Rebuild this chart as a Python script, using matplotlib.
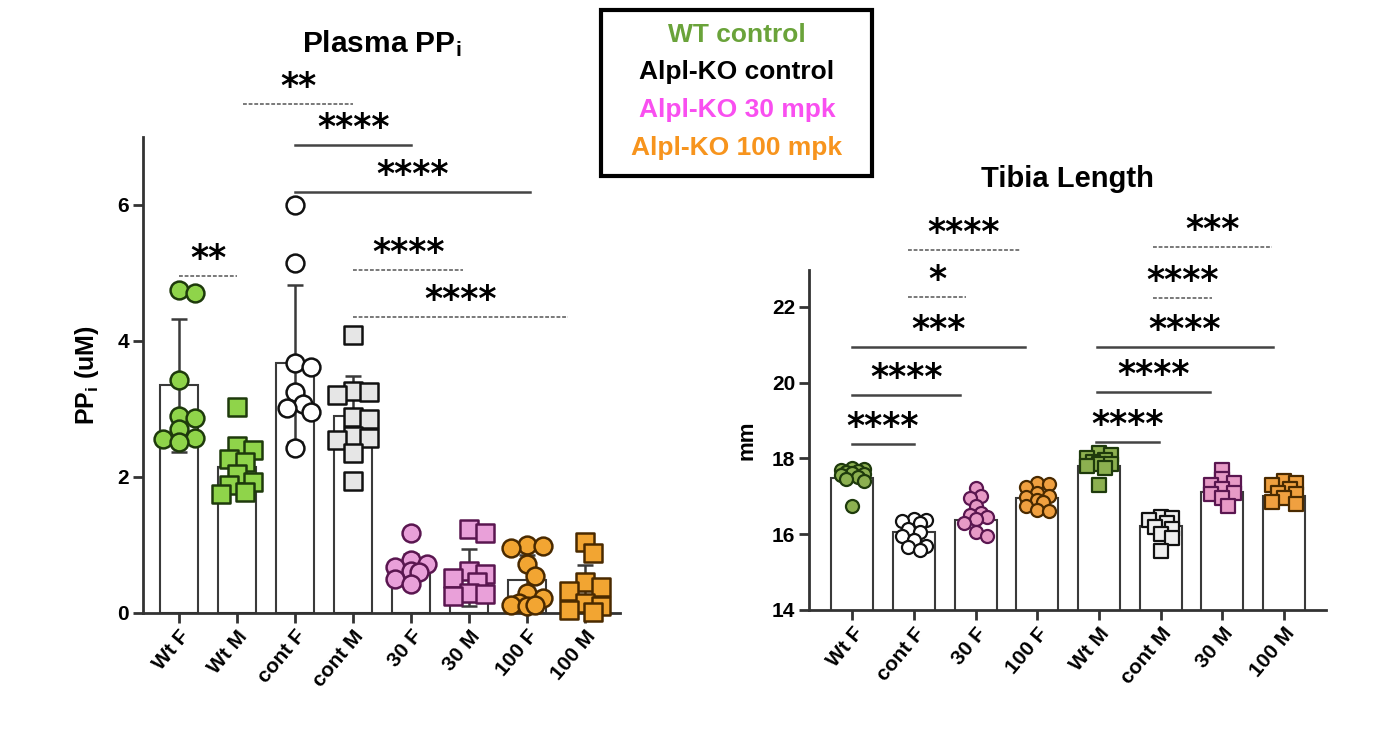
import matplotlib
matplotlib.use("Agg")
import matplotlib.pyplot as plt
from matplotlib.patches import Rectangle
import numpy as np

plt.rcParams['font.family'] = ['Liberation Sans', 'DejaVu Sans']
plt.rcParams['font.weight'] = 'bold'
plt.rcParams['axes.labelweight'] = 'bold'
plt.rcParams['mathtext.fontset'] = 'custom'
plt.rcParams['mathtext.rm'] = 'Liberation Sans:bold'
plt.rcParams['mathtext.it'] = 'Liberation Sans:bold'

# ---- Plasma PPi data ----
ppi_groups = ["Wt F", "Wt M", "cont F", "cont M", "30 F", "30 M", "100 F", "100 M"]
ppi_points = [
    [4.75, 4.70, 3.43, 2.90, 2.87, 2.70, 2.58, 2.56, 2.52],
    [3.03, 2.45, 2.40, 2.27, 2.22, 2.05, 1.93, 1.88, 1.78, 1.75],
    [6.00, 5.14, 3.68, 3.62, 3.25, 3.07, 3.02, 2.95, 2.43],
    [4.09, 3.27, 3.25, 3.20, 2.88, 2.85, 2.60, 2.58, 2.55, 2.35, 1.94],
    [1.17, 0.78, 0.72, 0.68, 0.62, 0.60, 0.50, 0.42],
    [1.24, 1.18, 0.62, 0.58, 0.52, 0.45, 0.30, 0.28, 0.25],
    [1.00, 0.98, 0.95, 0.72, 0.55, 0.30, 0.22, 0.15, 0.12, 0.10, 0.12],
    [1.05, 0.88, 0.45, 0.38, 0.32, 0.15, 0.10, 0.05, 0.02],
]
ppi_means = [3.35, 2.15, 3.67, 2.89, 0.66, 0.52, 0.48, 0.33]
ppi_sd = [0.98, 0.38, 1.16, 0.59, 0.21, 0.42, 0.37, 0.37]

# ---- Tibia length data ----
tib_groups = ["Wt F", "cont F", "30 F", "100 F", "Wt M", "cont M", "30 M", "100 M"]
tib_points = [
    [17.75, 17.72, 17.70, 17.68, 17.65, 17.62, 17.60, 17.55, 17.50, 17.45, 17.40, 16.75],
    [16.40, 16.38, 16.35, 16.30, 16.15, 16.05, 15.95, 15.85, 15.70, 15.65, 15.58],
    [17.22, 17.00, 16.95, 16.75, 16.55, 16.50, 16.45, 16.40, 16.30, 16.05, 15.95],
    [17.35, 17.32, 17.25, 17.10, 17.00, 16.98, 16.90, 16.85, 16.75, 16.65, 16.62],
    [18.15, 18.10, 18.00, 17.95, 17.90, 17.85, 17.85, 17.80, 17.75, 17.30],
    [16.45, 16.42, 16.38, 16.30, 16.20, 16.15, 16.00, 15.90, 15.55],
    [17.70, 17.45, 17.35, 17.30, 17.20, 17.10, 17.05, 16.95, 16.75],
    [17.40, 17.35, 17.30, 17.20, 17.10, 17.05, 16.95, 16.85, 16.80],
]
tib_means = [17.48, 16.05, 16.38, 16.95, 17.80, 16.22, 17.12, 17.00]

# significance brackets: (start, end, y, label, dashed)
ppi_sig = [
    (1.1, 3.0, 7.49, "**", True),
    (2.0, 4.0, 6.88, "****", False),
    (2.0, 6.05, 6.19, "****", False),
    (0.0, 1.0, 4.95, "**", True),
    (3.0, 4.9, 5.04, "****", True),
    (3.0, 6.7, 4.35, "****", True),
]
tib_sig = [
    (0.0, 1.0, 18.38, "****", False),
    (0.0, 1.75, 19.67, "****", False),
    (0.0, 2.8, 20.93, "***", False),
    (0.9, 1.85, 22.27, "*", True),
    (0.9, 2.72, 23.50, "****", True),
    (3.95, 4.98, 18.44, "****", False),
    (3.97, 5.8, 19.74, "****", False),
    (3.97, 6.82, 20.93, "****", False),
    (4.88, 5.83, 22.22, "****", True),
    (4.88, 6.8, 23.58, "***", True),
]

# marker styles: (marker, face, edge)
ppi_style = [
    ("o", "#8fd44a", "#1e3a0c"), ("s", "#8fd44a", "#1e3a0c"),
    ("o", "#ffffff", "#111111"), ("s", "#e6e6e6", "#111111"),
    ("o", "#e9a0d9", "#5a1650"), ("s", "#e9a0d9", "#5a1650"),
    ("o", "#f2a532", "#4a2a00"), ("s", "#f2a532", "#4a2a00"),
]
tib_style = [
    ("o", "#8cb050", "#1e3a0c"), ("o", "#ffffff", "#111111"),
    ("o", "#e79ac6", "#5a1650"), ("o", "#f0a040", "#4a2a00"),
    ("s", "#8cb050", "#1e3a0c"), ("s", "#eeeeee", "#111111"),
    ("s", "#e79ac6", "#5a1650"), ("s", "#f0a040", "#4a2a00"),
]


def swarm(ax, x0, vals, diam):
    tr = ax.transData
    pxx = tr.transform((1, 0))[0] - tr.transform((0, 0))[0]
    placed = []
    offs = np.zeros(len(vals))
    step = diam * 0.45
    for i in np.argsort(vals)[::-1]:
        yp = tr.transform((x0, vals[i]))[1]
        best, bestd = 0.0, -1
        for k in [0, 1, -1, 2, -2]:
            dx = k * step
            d = min([np.hypot(dx - a, yp - b) for a, b in placed] or [1e9])
            if d >= diam * 0.72:
                best = dx
                break
            if d > bestd:
                best, bestd = dx, d
        placed.append((best, yp))
        offs[i] = best / pxx
    return offs


def style_axes(ax):
    for s in ["top", "right"]:
        ax.spines[s].set_visible(False)
    for s in ["left", "bottom"]:
        ax.spines[s].set_linewidth(2)
        ax.spines[s].set_color("#333333")
    ax.tick_params(axis="both", length=7, width=2, color="#333333",
                   labelsize=15, pad=3)


def draw_sig(ax, sigs, fs):
    for x1, x2, y, lab, dashed in sigs:
        if dashed:
            ax.plot([x1, x2], [y, y], color="#555555", lw=1.1,
                    dashes=(2.5, 1.2), clip_on=False)
        else:
            ax.plot([x1, x2], [y, y], color="#444444", lw=1.8, clip_on=False)
        ax.text((x1 + x2) / 2, y, lab, ha="center", va="bottom", fontsize=fs,
                family="DejaVu Sans", fontweight="bold", clip_on=False)


fig = plt.figure(figsize=(13.74, 7.42), dpi=100)

# ---------- left panel ----------
ax1 = fig.add_axes([0.1041, 0.1739, 0.3472, 0.6415])
ax1.set_xlim(-0.62, 7.6)
ax1.set_ylim(0, 7.0)
x = np.arange(len(ppi_groups))
ax1.bar(x, ppi_means, width=0.66, color="white", edgecolor="#3a3a3a",
        linewidth=1.5, zorder=1)
ax1.errorbar(x, ppi_means, yerr=ppi_sd, fmt="none", ecolor="#3a3a3a",
             elinewidth=1.8, capsize=6, capthick=1.8, zorder=2)
for i, pts in enumerate(ppi_points):
    m, fc, ec = ppi_style[i]
    off = swarm(ax1, i, pts, 18)
    ax1.scatter(i + off, pts, s=165, marker=m, facecolor=fc, edgecolor=ec,
                linewidth=1.8, zorder=3, clip_on=False)
style_axes(ax1)
ax1.set_yticks([0, 2, 4, 6])
ax1.set_xticks(x)
ax1.set_xticklabels(ppi_groups, rotation=50, ha="right",
                    rotation_mode="anchor", fontsize=15)
ax1.set_ylabel("PP$_\\mathrm{i}$ (uM)", fontsize=18, labelpad=12)
draw_sig(ax1, ppi_sig, 25)
fig.text(0.2777, 0.93, "Plasma PP$_\\mathrm{i}$", ha="center", va="baseline",
         fontsize=21.5)

# ---------- right panel ----------
ax2 = fig.add_axes([0.5888, 0.1779, 0.3763, 0.4582])
ax2.set_xlim(-0.70, 7.68)
ax2.set_ylim(14, 22.97)
x2 = np.arange(len(tib_groups))
ax2.bar(x2, tib_means, width=0.68, color="white", edgecolor="#3a3a3a",
        linewidth=1.5, zorder=1)
for i, pts in enumerate(tib_points):
    m, fc, ec = tib_style[i]
    off = swarm(ax2, i, pts, 13)
    ax2.scatter(i + off, pts, s=88, marker=m, facecolor=fc, edgecolor=ec,
                linewidth=1.6, zorder=3)
style_axes(ax2)
ax2.set_yticks([14, 16, 18, 20, 22])
ax2.set_xticks(x2)
ax2.set_xticklabels(tib_groups, rotation=50, ha="right",
                    rotation_mode="anchor", fontsize=15)
ax2.set_ylabel("mm", fontsize=16, labelpad=10)
draw_sig(ax2, tib_sig, 25)
fig.text(0.7766, 0.748, "Tibia Length", ha="center", va="baseline",
         fontsize=21)

# ---------- legend box ----------
fig.patches.append(Rectangle((601 / 1374, 1 - 176 / 742), 271 / 1374, 166 / 742,
                             transform=fig.transFigure, fill=False,
                             edgecolor="black", linewidth=3))
legend_labels = ["WT control", "Alpl-KO control", "Alpl-KO 30 mpk", "Alpl-KO 100 mpk"]
legend_colors = ["#6aa33a", "#000000", "#f94ff0", "#f7941d"]
for k, (lab, col) in enumerate(zip(legend_labels, legend_colors)):
    fig.text(737 / 1374, 1 - (35 + 37.5 * k) / 742, lab, ha="center",
             va="center", fontsize=19, color=col)

fig.savefig("out.png", dpi=100)
